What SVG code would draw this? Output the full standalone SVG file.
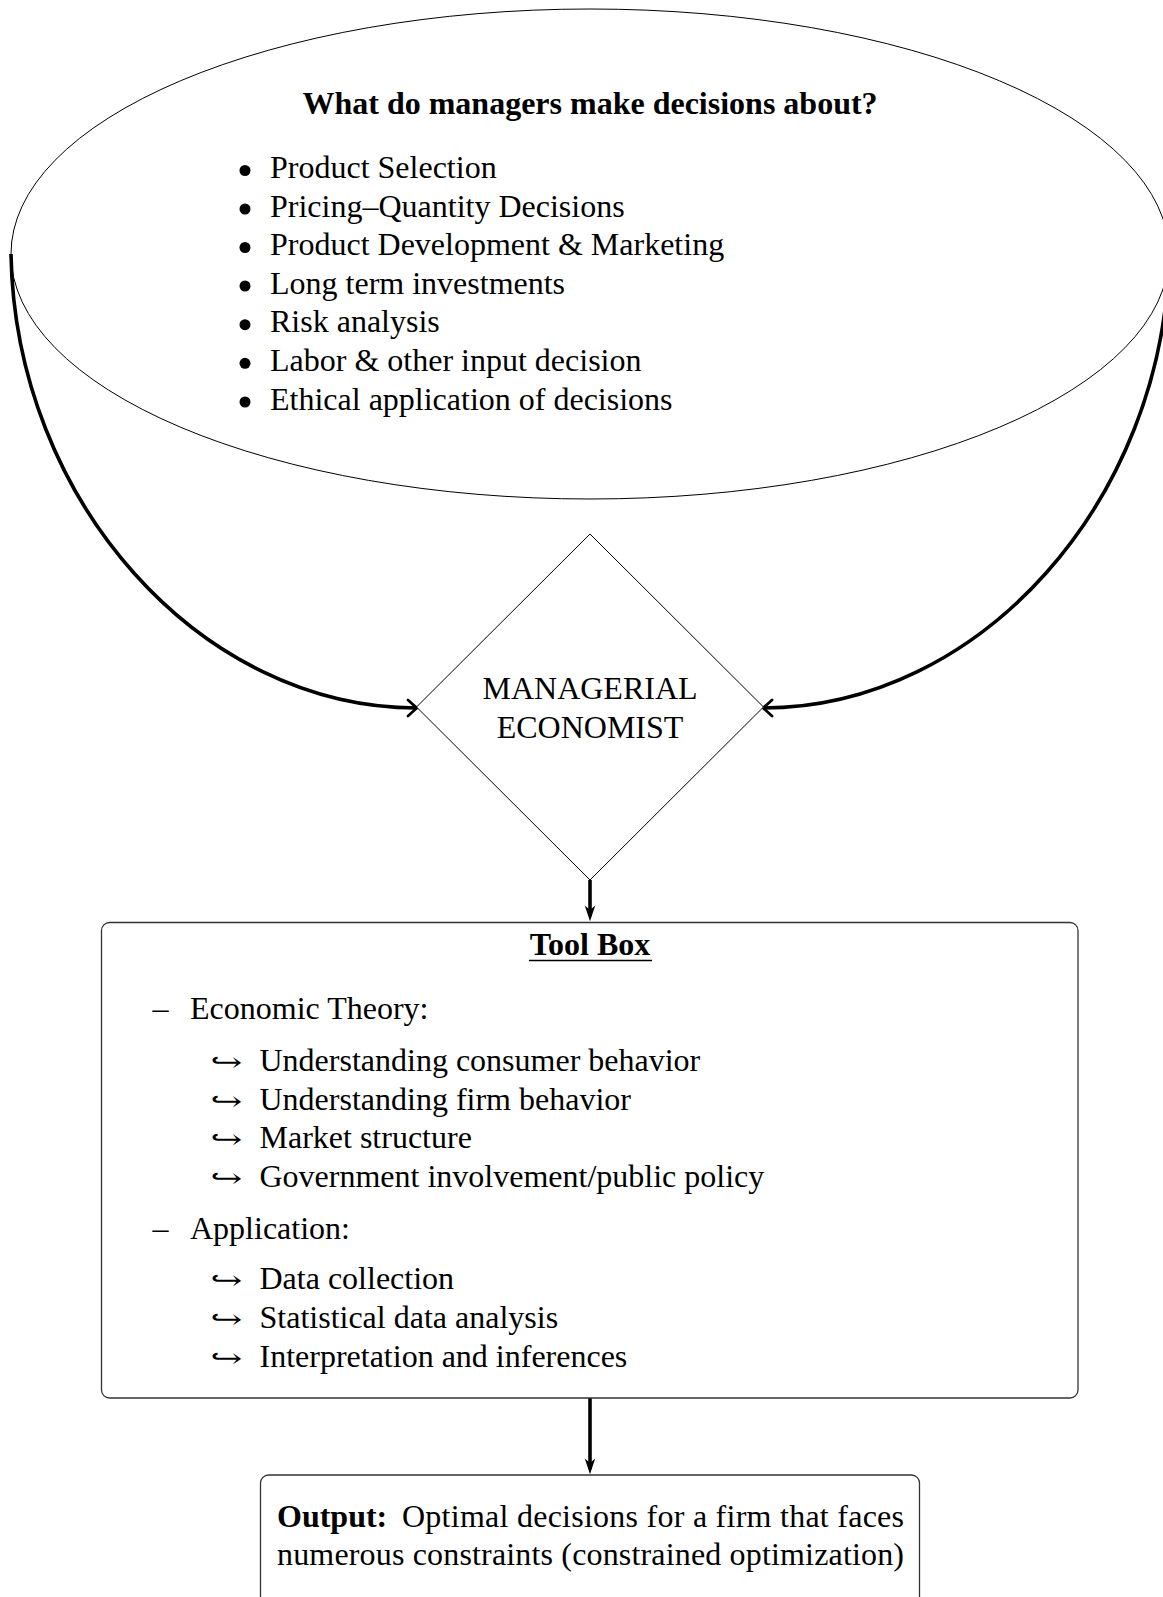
<svg xmlns="http://www.w3.org/2000/svg" width="1163" height="1597" viewBox="0 0 1163 1597">
<style>
  text { font-family: "Liberation Serif", "Times New Roman", serif; font-size: 32px; fill: #000; }
  .b { font-weight: bold; }
  .hook { font-family: "DejaVu Serif", serif; font-size: 26px; }
  .thin { fill: #fff; stroke: #000; stroke-width: 1; }
  .box { fill: #fff; stroke: #333; stroke-width: 1.3; }
  .thick { fill: none; stroke: #000; stroke-width: 3.6; }
</style>
<defs>
  <marker id="barb" markerUnits="userSpaceOnUse" markerWidth="20" markerHeight="20" viewBox="-12 -10 14 20" refX="0" refY="0" orient="auto" overflow="visible">
    <path d="M -9 -8 Q -2 -1.5 0 0 Q -2 1.5 -9 8" fill="none" stroke="#000" stroke-width="2.8" stroke-linecap="round"/>
  </marker>
  <marker id="stealth" markerUnits="userSpaceOnUse" markerWidth="24" markerHeight="14" viewBox="-20 -8 22 16" refX="-6" refY="0" orient="auto" overflow="visible">
    <path d="M 0 0 L -18 -6 L -13 0 L -18 6 Z" fill="#000"/>
  </marker>
</defs>
<rect width="1163" height="1597" fill="#fff"/>

<g id="connectors">
  <path class="thick" d="M 11 254 C 15 500, 200 708, 417 708" marker-end="url(#barb)"/>
  <path class="thick" d="M 1169 254 C 1165 500, 980 708, 763 708" marker-end="url(#barb)"/>
  <line class="thick" x1="590" y1="880" x2="590" y2="916" marker-end="url(#stealth)"/>
  <line class="thick" x1="590" y1="1398" x2="590" y2="1469" marker-end="url(#stealth)"/>
</g>

<g id="decisions">
  <ellipse class="thin" cx="590" cy="254" rx="579" ry="245" style="fill:none"/>
  <text class="b" x="590" y="114" text-anchor="middle">What do managers make decisions about?</text>
  <g>
    <circle cx="245" cy="170.5" r="5.5"/>
    <text x="270" y="178">Product Selection</text>
    <circle cx="245" cy="209" r="5.5"/>
    <text x="270" y="216.6">Pricing–Quantity Decisions</text>
    <circle cx="245" cy="247.5" r="5.5"/>
    <text x="270" y="255.2">Product Development &amp; Marketing</text>
    <circle cx="245" cy="286" r="5.5"/>
    <text x="270" y="293.8">Long term investments</text>
    <circle cx="245" cy="324.7" r="5.5"/>
    <text x="270" y="332.4">Risk analysis</text>
    <circle cx="245" cy="363.3" r="5.5"/>
    <text x="270" y="371">Labor &amp; other input decision</text>
    <circle cx="245" cy="402" r="5.5"/>
    <text x="270" y="409.6">Ethical application of decisions</text>
  </g>
</g>

<g id="economist">
  <polygon class="thin" points="590,534 763.5,707 590,880 416.5,707"/>
  <text x="590" y="699" text-anchor="middle">MANAGERIAL</text>
  <text x="590" y="738" text-anchor="middle">ECONOMIST</text>
</g>

<g id="toolbox">
  <rect class="box" x="101.5" y="922.5" width="976.5" height="475.5" rx="8" ry="8"/>
  <text class="b" x="590" y="955" text-anchor="middle">Tool Box</text>
  <line x1="529" y1="960.5" x2="652" y2="960.5" stroke="#000" stroke-width="1.4"/>
  <text x="152.5" y="1019">–</text>
  <text x="190" y="1019">Economic Theory:</text>
  <text class="hook" x="210" y="1071" textLength="32" lengthAdjust="spacingAndGlyphs">↪</text>
  <text x="259.5" y="1071">Understanding consumer behavior</text>
  <text class="hook" x="210" y="1110" textLength="32" lengthAdjust="spacingAndGlyphs">↪</text>
  <text x="259.5" y="1110">Understanding firm behavior</text>
  <text class="hook" x="210" y="1148" textLength="32" lengthAdjust="spacingAndGlyphs">↪</text>
  <text x="259.5" y="1148">Market structure</text>
  <text class="hook" x="210" y="1187" textLength="32" lengthAdjust="spacingAndGlyphs">↪</text>
  <text x="259.5" y="1187">Government involvement/public policy</text>
  <text x="152.5" y="1239">–</text>
  <text x="190" y="1239">Application:</text>
  <text class="hook" x="210" y="1289" textLength="32" lengthAdjust="spacingAndGlyphs">↪</text>
  <text x="259.5" y="1289">Data collection</text>
  <text class="hook" x="210" y="1328" textLength="32" lengthAdjust="spacingAndGlyphs">↪</text>
  <text x="259.5" y="1328">Statistical data analysis</text>
  <text class="hook" x="210" y="1366.5" textLength="32" lengthAdjust="spacingAndGlyphs">↪</text>
  <text x="259.5" y="1366.5">Interpretation and inferences</text>
</g>

<g id="output">
  <rect class="box" x="260.5" y="1475" width="659" height="140" rx="8" ry="8"/>
  <text class="b" x="277" y="1527">Output:</text>
  <text x="402" y="1527" textLength="502" lengthAdjust="spacing">Optimal decisions for a firm that faces</text>
  <text x="277" y="1565" textLength="627" lengthAdjust="spacing">numerous constraints (constrained optimization)</text>
</g>
</svg>
